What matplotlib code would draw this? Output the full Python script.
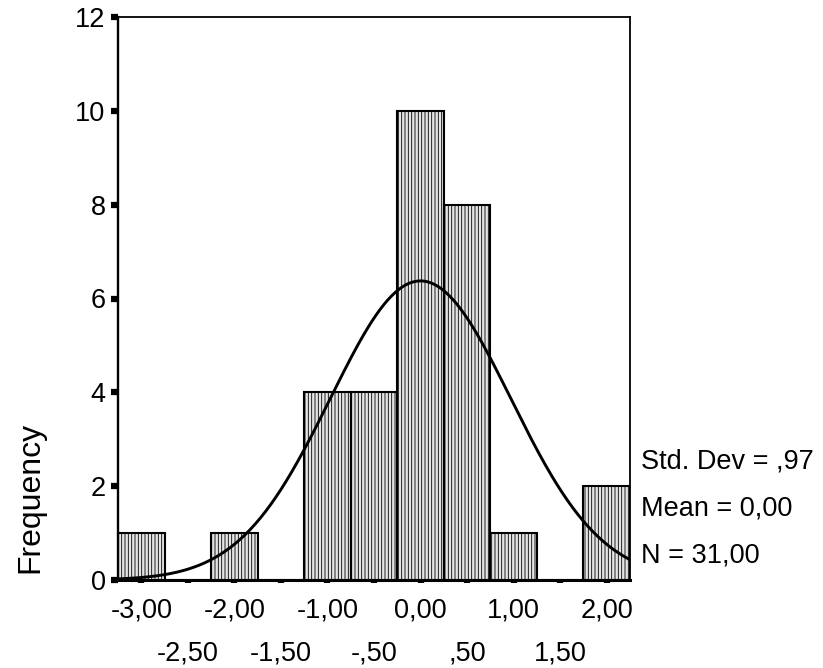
import numpy as np
import matplotlib
matplotlib.use("Agg")
import matplotlib.pyplot as plt

plt.rcParams['font.family'] = ['Liberation Sans', 'DejaVu Sans']
plt.rcParams['hatch.color'] = '#c8c8c8'
plt.rcParams['hatch.linewidth'] = 0.6

# histogram data
bin_centers = [-3.0, -2.5, -2.0, -1.5, -1.0, -0.5, 0.0, 0.5, 1.0, 1.5, 2.0]
counts = [1, 0, 1, 0, 4, 4, 10, 8, 1, 0, 2]
bin_width = 0.5
mean = 0.00
std_dev = 0.97
n_total = 31

major_ticks = [-3.0, -2.0, -1.0, 0.0, 1.0, 2.0]
major_labels = ["-3,00", "-2,00", "-1,00", "0,00", "1,00", "2,00"]
minor_ticks = [-2.5, -1.5, -0.5, 0.5, 1.5]
minor_labels = ["-2,50", "-1,50", "-,50", ",50", "1,50"]
y_ticks = [0, 2, 4, 6, 8, 10, 12]

fig = plt.figure(figsize=(8.23, 6.68), dpi=100)
ax = fig.add_axes([118/823, 1-580/668, (630-118)/823, (580-17)/668])

ax.bar(bin_centers, counts, width=bin_width, facecolor='#e4e4e4',
       edgecolor='black', linewidth=1.5, hatch='|||||', zorder=2)

# fitted normal curve, as spss draws it
xs = np.linspace(-3.25, 2.25, 400)
ys = n_total * bin_width * np.exp(-0.5*((xs-mean)/std_dev)**2) / (std_dev*np.sqrt(2*np.pi))
ax.plot(xs, ys, color='black', lw=2.1, zorder=3)

ax.set_xlim(-3.25, 2.25)
ax.set_ylim(0, 12)

ax.set_xticks(major_ticks)
ax.set_xticklabels(major_labels)
ax.set_xticks(minor_ticks, minor=True)
ax.set_xticklabels(minor_labels, minor=True)
ax.set_yticks(y_ticks)

ax.tick_params(axis='x', which='both', direction='out', length=2.5, width=4.5,
               labelsize=19.5, colors='black')
ax.tick_params(axis='x', which='major', pad=10)
ax.tick_params(axis='x', which='minor', pad=41)
ax.tick_params(axis='y', direction='out', length=5, width=4.5, pad=4,
               labelsize=19.5)

for side in ['right', 'top']:
    ax.spines[side].set_linewidth(1.3)
ax.spines['left'].set_linewidth(1.7)
ax.spines['bottom'].set_linewidth(2.2)

fig.text(30/823, 1-497/668, "Frequency", rotation=90, fontsize=23,
         ha='center', va='center')

stats_lines = ["Std. Dev = ,97", "Mean = 0,00", "N = 31,00"]
for i, s in enumerate(stats_lines):
    fig.text(641/823, 1-(462+46.5*i)/668, s, fontsize=19.5, ha='left', va='center')

fig.savefig("out.png", dpi=100)
